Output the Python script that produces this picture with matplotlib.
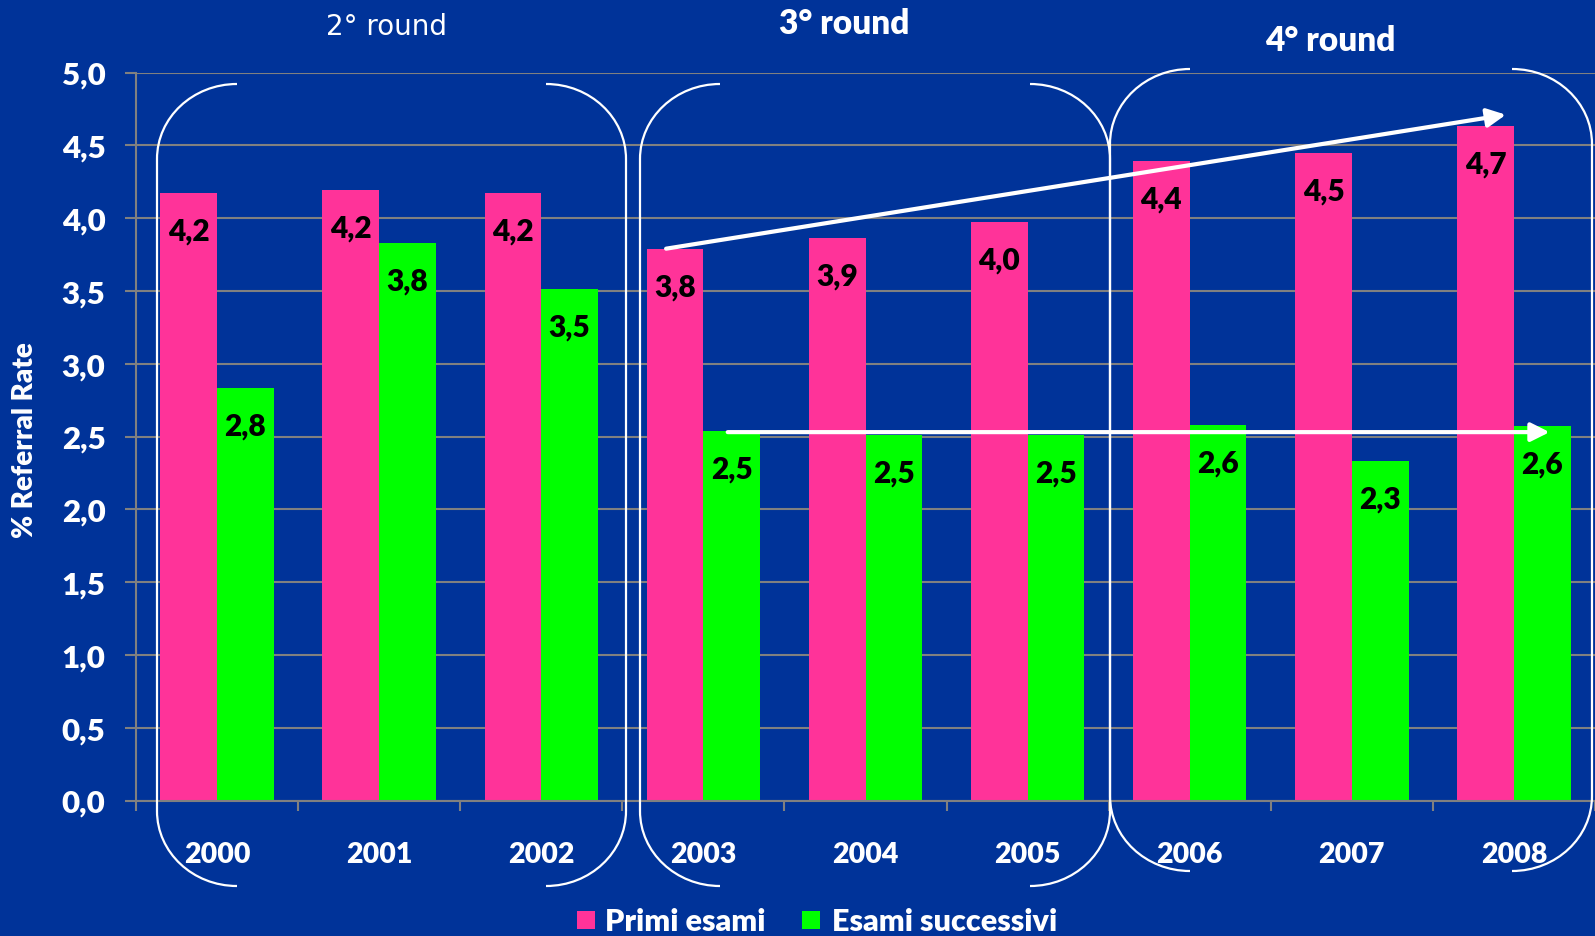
import matplotlib.pyplot as plt
import numpy as np
from matplotlib.path import Path
from matplotlib.patches import PathPatch, Rectangle

# data
years = ['2000', '2001', '2002', '2003', '2004', '2005', '2006', '2007', '2008']
primi = [4.17, 4.19, 4.17, 3.79, 3.86, 3.97, 4.39, 4.45, 4.63]
successivi = [2.83, 3.83, 3.51, 2.54, 2.51, 2.51, 2.58, 2.33, 2.57]
primi_lbl = ['4,2', '4,2', '4,2', '3,8', '3,9', '4,0', '4,4', '4,5', '4,7']
succ_lbl = ['2,8', '3,8', '3,5', '2,5', '2,5', '2,5', '2,6', '2,3', '2,6']
series_names = ['Primi esami', 'Esami successivi']
rounds = ['2° round', '3° round', '4° round']

bg = '#003399'
pink = '#FF3399'
green = '#00FF00'
grid_c = '#808080'
W, H = 1595, 937
FONT = 'Lato'
WT = 'heavy'

fig = plt.figure(figsize=(W / 100, H / 100), dpi=100, facecolor=bg)
ax = fig.add_axes([136 / W, 1 - 801.5 / H, 1 - 136 / W, (801.5 - 73.5) / H])
ax.set_facecolor(bg)

x = np.arange(len(years))
bw = 0.35
ax.bar(x - bw / 2, primi, bw, color=pink, zorder=2)
ax.bar(x + bw / 2, successivi, bw, color=green, zorder=2)

for i in range(len(years)):
    ax.annotate(primi_lbl[i], (x[i] - bw / 2, primi[i]), xytext=(0, -27),
                textcoords='offset points', ha='center', va='center',
                fontsize=21.5, fontweight=WT, family=FONT, color='black', zorder=3)
    ax.annotate(succ_lbl[i], (x[i] + bw / 2, successivi[i]), xytext=(0, -27),
                textcoords='offset points', ha='center', va='center',
                fontsize=21.5, fontweight=WT, family=FONT, color='black', zorder=3)

ax.set_xlim(-0.5, (W - 136) / 163.5 - 0.5)
ax.set_ylim(0, 5)

yt = np.arange(0, 5.01, 0.5)
ax.set_yticks(yt)
ax.set_yticklabels([f'{v:.1f}'.replace('.', ',') for v in yt],
                   fontsize=22.5, fontweight=WT, family=FONT, color='white')
ax.tick_params(axis='y', length=8, width=1.5, color=grid_c, pad=14)
ax.yaxis.grid(True, color=grid_c, lw=1.5)
ax.set_axisbelow(True)

ax.set_xticks(x)
ax.set_xticklabels(years, fontsize=20.5, fontweight=WT, family=FONT, color='white')
ax.set_xticks(np.arange(-0.5, len(years), 1), minor=True)
ax.tick_params(axis='x', which='major', length=0, pad=29)
ax.tick_params(axis='x', which='minor', length=7, width=1.5, color=grid_c)

for s in ['top', 'right']:
    ax.spines[s].set_visible(False)
for s in ['left', 'bottom']:
    ax.spines[s].set_color(grid_c)
    ax.spines[s].set_linewidth(1.5)

# trend arrows
arrow = dict(arrowstyle='-|>', color='white', lw=3, mutation_scale=28,
             shrinkA=0, shrinkB=0)
ax.annotate('', xy=(7.95, 4.71), xytext=(2.77, 3.79), arrowprops=arrow, zorder=5)
ax.annotate('', xy=(8.22, 2.53), xytext=(3.15, 2.53), arrowprops=arrow, zorder=5)


def px(xp, yp):
    return (xp / W, 1 - yp / H)


def bracket(x0, x1, top, bot, rx=80, ry=75):
    k = 0.5523
    verts, codes = [], []
    for xs, sgn in ((x0, 1), (x1, -1)):
        pts = [(xs + sgn * rx, top),
               (xs + sgn * rx * (1 - k), top), (xs, top + ry * (1 - k)), (xs, top + ry),
               (xs, bot - ry),
               (xs, bot - ry * (1 - k)), (xs + sgn * rx * (1 - k), bot), (xs + sgn * rx, bot)]
        verts += [px(*p) for p in pts]
        codes += [Path.MOVETO, Path.CURVE4, Path.CURVE4, Path.CURVE4,
                  Path.LINETO, Path.CURVE4, Path.CURVE4, Path.CURVE4]
    patch = PathPatch(Path(verts, codes), transform=fig.transFigure,
                      facecolor='none', edgecolor='white', lw=1.6, zorder=6)
    fig.patches.append(patch)


bracket(157, 626, 85, 887)
bracket(640, 1110, 85, 887)
bracket(1110, 1592, 70, 872)

fig.text(*px(387, 35), rounds[0], ha='center', va='baseline', fontsize=20,
         family='DejaVu Sans', color='white')
fig.text(*px(844, 34), rounds[1], ha='center', va='baseline', fontsize=24,
         fontweight=WT, family=FONT, color='white')
fig.text(*px(1330, 51), rounds[2], ha='center', va='baseline', fontsize=24,
         fontweight=WT, family=FONT, color='white')

fig.text(*px(25, 440), '% Referral Rate', rotation=90, ha='center', va='center',
         fontsize=20, fontweight=WT, family=FONT, color='white')

# legend at the bottom edge
for (sx, tx), name, col in zip([(577, 605), (802, 832)], series_names, [pink, green]):
    fig.patches.append(Rectangle(px(sx, 930), 18 / W, 18 / H, transform=fig.transFigure,
                                 facecolor=col, edgecolor='none'))
    fig.text(*px(tx, 931), name, ha='left', va='baseline', fontsize=22,
             fontweight=WT, family=FONT, color='white')

fig.savefig('out.png', dpi=100, facecolor=bg)
